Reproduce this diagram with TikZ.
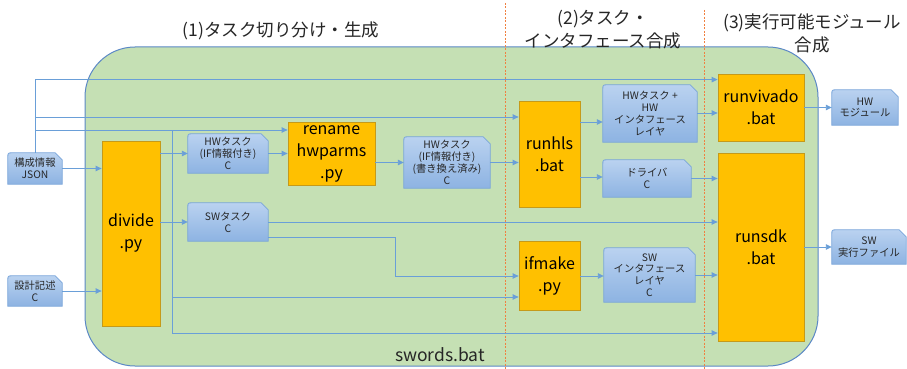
\documentclass[tikz,border=0pt]{standalone}
\usepackage{fontspec}
\setmainfont{Noto Sans CJK JP}
\usetikzlibrary{arrows.meta,calc}
\definecolor{grn}{HTML}{C5E0B4}
\definecolor{grnedge}{HTML}{5B88C6}
\definecolor{org}{HTML}{FFC000}
\definecolor{orgedge}{HTML}{C59A1A}
\definecolor{btop}{HTML}{BAD2F0}
\definecolor{bbot}{HTML}{8DB3E2}
\definecolor{bedge}{HTML}{79A5DA}
\definecolor{lnc}{HTML}{6A9FD8}
\definecolor{dsh}{HTML}{F08040}
\pgfdeclarelayer{back}
\pgfsetlayers{back,main}
\tikzset{
  prog/.style={fill=org, draw=orgedge, line width=0.8pt, inner sep=0pt, align=center,
    font=\fontsize{16}{22}\selectfont, text=black},
  data/.style={inner sep=0pt, align=center, font=\fontsize{10.3}{11.8}\selectfont, text=black!85},
  bshape/.style={top color=btop, bottom color=bbot, draw=bedge, line width=0.8pt},
  arr/.style={draw=lnc, line width=0.9pt, -{Triangle[length=6pt,width=5.5pt]}},
  ttl/.style={align=center, font=\fontsize{17.5}{23}\selectfont, text=black!85},
}
\begin{document}
\begin{tikzpicture}[x=1pt,y=-1pt]
\useasboundingbox (0,0) rectangle (907,369);
% background frame
\begin{pgfonlayer}{back}
\draw[fill=grn, draw=grnedge, line width=1pt, rounded corners=50pt] (85,47) rectangle (818,366);
\draw[dsh, dashed, dash pattern=on 2pt off 1.5pt, line width=0.6pt] (505,3) -- (505,369);
\draw[dsh, dashed, dash pattern=on 2pt off 1.5pt, line width=0.6pt] (704,10) -- (704,369);
\end{pgfonlayer}

% titles
\node[ttl] (t1) at (281,31) {(1)タスク切り分け・生成};
\node[ttl] (t2) at (603,30) {(2)タスク・\\インタフェース合成};
\node[ttl] (t3) at (812,33) {(3)実行可能モジュール\\合成};
\node[font=\fontsize{17.5}{20}\selectfont, text=black!85] (sw) at (440,355) {swords.bat};

% program nodes
\node[prog, minimum width=58pt, minimum height=185pt] (divide) at (131,233.5) {divide\\.py};
\node[prog, minimum width=87pt, minimum height=63pt] (rename) at (331.5,153.5) {rename\\hwparms\\.py};
\node[prog, minimum width=61pt, minimum height=106pt] (runhls) at (549.5,154) {runhls\\.bat};
\node[prog, minimum width=61pt, minimum height=69pt] (ifmake) at (549.5,275.5) {ifmake\\.py};
\node[prog, minimum width=86pt, minimum height=67pt] (runvivado) at (761,107.5) {runvivado\\.bat};
\node[prog, minimum width=86pt, minimum height=188pt] (runsdk) at (761,247) {runsdk\\.bat};

% data nodes
\node[data, minimum width=54pt, minimum height=31pt] (json) at (35,168.5) {構成情報\\JSON};
\node[data, minimum width=54pt, minimum height=30pt] (design) at (35,291) {設計記述\\C};
\node[data, minimum width=80pt, minimum height=39pt] (hwt) at (228,153.5) {HWタスク\\(IF情報付き)\\C};
\node[data, minimum width=80pt, minimum height=38pt] (swt) at (228,222) {SWタスク\\C};
\node[data, minimum width=86pt, minimum height=51pt] (hwt2) at (447,162.5) {HWタスク\\(IF情報付き)\\(書き換え済み)\\C};
\node[data, minimum width=94pt, minimum height=57pt] (hwif) at (650,113.5) {HWタスク + \\HW\\インタフェース\\レイヤ};
\node[data, minimum width=88pt, minimum height=37pt] (drv) at (647,178.5) {ドライバ\\C};
\node[data, minimum width=91pt, minimum height=54pt] (swif) at (649.5,275) {SW\\インタフェース\\レイヤ\\C};
\node[data, minimum width=66pt, minimum height=35pt] (hwmod) at (865,107.5) {HW\\モジュール};
\node[data, minimum width=74pt, minimum height=34pt] (swexe) at (869,247) {SW\\実行ファイル};

\begin{pgfonlayer}{back}
\foreach \n in {json,design,hwt,swt,hwt2,hwif,drv,swif,hwmod,swexe}{
  \path[bshape] (\n.south west) -- ([yshift=-5pt]\n.north west)
    .. controls (\n.north west) .. ([xshift=5pt]\n.north west)
    -- ([xshift=-7pt]\n.north east) -- ([yshift=-7pt]\n.north east)
    -- (\n.south east) -- cycle;
}
\end{pgfonlayer}

% connectors
\coordinate (br) at (172,130);
\coordinate (bend) at (395,237);
\draw[arr] (json.north) |- ($(runvivado.north west)+(0,6)$);
\draw[arr] (json.north |- 0,117) -- (runhls.west |- 0,117);
\draw[arr] (json.north |- br) -- (rename.west |- br);
\draw[arr] (br) |- (runsdk.west |- 0,333);
\draw[arr] (br |- 0,297) -- (ifmake.west |- 0,297);
\draw[arr] (json.east) -- (divide.west |- json.east);
\draw[arr] (design.east) -- (divide.west |- design.east);
\draw[arr] (divide.east |- hwt.west) -- (hwt.west);
\draw[arr] (divide.east |- swt.west) -- (swt.west);
\draw[arr] (hwt.east) -- (rename.west |- hwt.east);
\draw[arr] (rename.east |- hwt2.west) -- (hwt2.west);
\draw[arr] (hwt2.east) -- (runhls.west |- hwt2.east);
\draw[arr] (runhls.east |- 0,122) -- (hwif.west |- 0,122);
\draw[arr] (runhls.east |- 0,177) -- (drv.west |- 0,177);
\draw[arr] (swt.east) -- (runsdk.west |- swt.east);
\draw[arr] (swt.east |- bend) -- (bend) |- (ifmake.west |- 0,276);
\draw[arr] (ifmake.east |- 0,276) -- (swif.west |- 0,276);
\draw[arr] (hwif.east |- 0,113) -- (runvivado.west |- 0,113);
\draw[arr] (drv.east) -- (runsdk.west |- drv.east);
\draw[arr] (swif.east) -- (runsdk.west |- swif.east);
\draw[arr] (runvivado.east |- hwmod.west) -- (hwmod.west);
\draw[arr] (runsdk.east |- swexe.west) -- (swexe.west);
\end{tikzpicture}
\end{document}
